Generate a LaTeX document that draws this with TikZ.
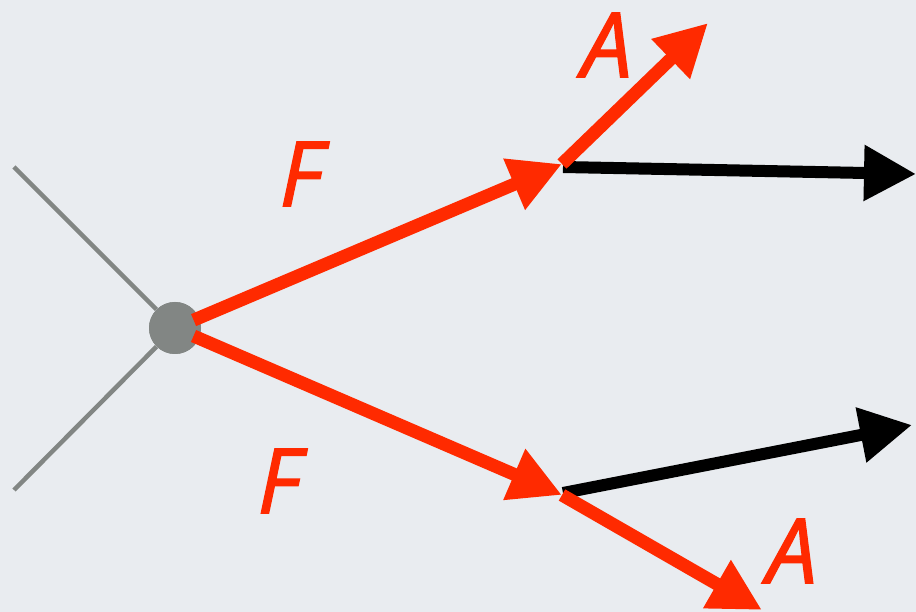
\documentclass[tikz,border=0pt]{standalone}
\usepackage{fontspec}
\setmainfont{Open Sans}
\newfontfamily\lblfont{Open Sans}[ItalicFeatures={FakeBold=1.4}]
\usetikzlibrary{arrows.meta}
\definecolor{bg}{RGB}{233,236,240}
\definecolor{vred}{RGB}{255,42,0}
\definecolor{vgray}{RGB}{130,134,132}
\tikzset{
  redarrow/.style={draw=vred, line width=13pt, -{Triangle[length=52pt,width=52pt]}, color=vred},
  blackarrow/.style={draw=black, line width=12pt, -{Triangle[length=52pt,width=53pt]}},
  grayline/.style={draw=vgray, line width=4.5pt},
  lbl/.style={text=vred, font=\fontsize{90}{90}\lblfont\itshape, inner sep=0pt},
}
\begin{document}
\begin{tikzpicture}[x=1pt,y=-1pt]
\useasboundingbox (0,0) rectangle (916,612);
\fill[bg] (0,0) rectangle (916,612);
\coordinate (g1) at (14,167);
\coordinate (g2) at (14,490);
\node[circle, fill=vgray, minimum size=52pt, inner sep=0pt] (c) at (175,328) {};
\draw[grayline] (g1) -- (c);
\draw[grayline] (g2) -- (c);
\node[circle, fill=vgray, minimum size=52pt, inner sep=0pt] at (c) {};
\coordinate (u) at (562,164);
\coordinate (l) at (562,495);
\coordinate (ub) at (563,167);
\coordinate (lb) at (563,493);
\coordinate (ut) at (916,174);
\coordinate (lt) at (912,425);
\coordinate (ua) at (708,23);
\coordinate (la) at (762,610);
\draw[redarrow, shorten <=-6pt] (c) -- (u);
\draw[redarrow, shorten <=-6pt] (c) -- (l);
\draw[blackarrow] (ub) -- (ut);
\draw[blackarrow] (lb) -- (lt);
\draw[redarrow] (u) -- (ua);
\draw[redarrow] (l) -- (la);
\node[lbl] (f1) at (301,174) {F};
\node[lbl] (f2) at (279,481) {F};
\node[lbl] (a1) at (607,45) {A};
\node[lbl] (a2) at (792,551) {A};
\end{tikzpicture}
\end{document}
